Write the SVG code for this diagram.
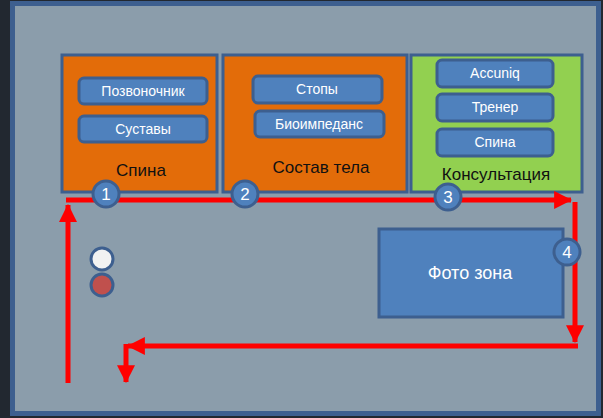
<svg xmlns="http://www.w3.org/2000/svg" width="603" height="418" viewBox="0 0 603 418">
<style>
text{font-family:"Liberation Sans","DejaVu Sans",sans-serif;}
.zone{stroke:#3d5f8f;stroke-width:3}
.orange{fill:#e36c09}
.green{fill:#92d050}
.btn{fill:#4f81bd;stroke:#3d5f8f;stroke-width:3}
.bt{fill:#fff;font-size:14px;text-anchor:middle}
.lbl{fill:#111;font-size:17px;text-anchor:middle}
.num{fill:#4f81bd;stroke:#3d5f8f;stroke-width:3}
.nt{fill:#fff;font-size:17px;text-anchor:middle}
.arr{fill:none;stroke:#ff0000;stroke-width:5}
</style>
<defs>
<marker id="ah" markerUnits="userSpaceOnUse" markerWidth="18" markerHeight="18" refX="15" refY="8" orient="auto" viewBox="0 0 16 16">
<path d="M0,0 L16,8 L0,16 Z" fill="#ff0000"/>
</marker>
</defs>
<rect width="603" height="418" fill="#222830"/>
<rect x="12.5" y="3.5" width="586" height="410" fill="#8b9dab" stroke="#3d5f8f" stroke-width="5"/>

<g id="zone1">
<rect class="zone orange" x="62" y="55" width="155" height="137"/>
<rect class="btn" x="79" y="78" width="128" height="26" rx="5"/>
<text class="bt" x="143" y="96">Позвоночник</text>
<rect class="btn" x="79" y="116" width="128" height="26" rx="5"/>
<text class="bt" x="143" y="134">Суставы</text>
<text class="lbl" x="141" y="176">Спина</text>
</g>
<g id="zone2">
<rect class="zone orange" x="223" y="55" width="184" height="137"/>
<rect class="btn" x="253" y="76" width="129" height="27" rx="5"/>
<text class="bt" x="317" y="94">Стопы</text>
<rect class="btn" x="255" y="111" width="129" height="26" rx="5"/>
<text class="bt" x="319" y="129">Биоимпеданс</text>
<text class="lbl" x="321" y="173">Состав тела</text>
</g>
<g id="zone3">
<rect class="zone green" x="411" y="55" width="171" height="137"/>
<rect class="btn" x="437" y="60" width="116" height="27" rx="5"/>
<text class="bt" x="495" y="78">Accuniq</text>
<rect class="btn" x="437" y="94" width="116" height="27" rx="5"/>
<text class="bt" x="495" y="112">Тренер</text>
<rect class="btn" x="437" y="129" width="116" height="27" rx="5"/>
<text class="bt" x="495" y="147">Спина</text>
<text class="lbl" x="496" y="180">Консультация</text>
</g>
<g id="photo">
<rect x="379" y="229" width="184" height="88" fill="#4f81bd" stroke="#3d5f8f" stroke-width="3"/>
<text x="470" y="279" fill="#fff" font-size="18" text-anchor="middle">Фото зона</text>
</g>
<g id="lights">
<circle cx="102" cy="259" r="11" fill="#f2f2f2" stroke="#3d5f8f" stroke-width="3"/>
<circle cx="102" cy="285" r="11" fill="#c0504d" stroke="#3d5f8f" stroke-width="3"/>
</g>

<g id="connectors">
<path class="arr" d="M68,383 V205" marker-end="url(#ah)"/>
<path class="arr" d="M66,200 H571" marker-end="url(#ah)"/>
<path class="arr" d="M575,202 V342" marker-end="url(#ah)"/>
<path class="arr" d="M578,346 H128" marker-end="url(#ah)"/>
<path class="arr" d="M126,344 V382" marker-end="url(#ah)"/>
</g>

<g id="n1"><circle class="num" cx="106" cy="194" r="13"/><text class="nt" x="106" y="200">1</text></g>
<g id="n2"><circle class="num" cx="245" cy="194" r="13"/><text class="nt" x="245" y="200">2</text></g>
<g id="n3"><circle class="num" cx="448" cy="197" r="13"/><text class="nt" x="448" y="203">3</text></g>
<g id="n4"><circle class="num" cx="567" cy="252" r="13"/><text class="nt" x="567" y="258">4</text></g>
</svg>
